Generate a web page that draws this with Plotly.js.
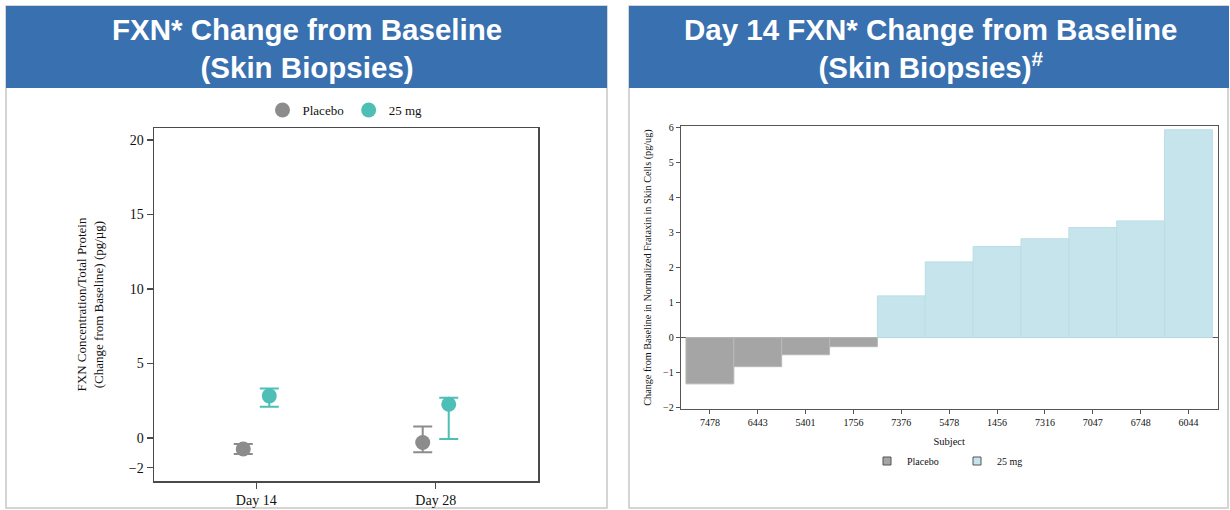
<!DOCTYPE html>
<html>
<head>
<meta charset="utf-8">
<script src="https://cdn.plot.ly/plotly-3.0.1.min.js"></script>
<style>html,body{margin:0;padding:0;background:#fff;}#chart{width:1230px;height:510px;}</style>
</head>
<body>
<div id="chart"></div>
<script>
// ---- Left chart data (mean change from baseline with error range) ----
const days = ['Day 14', 'Day 28'];
const placeboMean  = [-0.74, -0.31];
const placeboUpper = [-0.40, 0.76];
const placeboLower = [-1.07, -0.96];
const mg25Mean  = [2.82, 2.26];
const mg25Upper = [3.31, 2.70];
const mg25Lower = [2.10, -0.07];
const leftYTicks = [-2, 0, 5, 10, 15, 20];

// ---- Right chart data (Day 14 per-subject change) ----
const subjects = ['7478','6443','5401','1756','7376','5478','1456','7316','7047','6748','6044'];
const placeboSubjects = ['7478','6443','5401','1756'];
const placeboChange   = [-1.32, -0.83, -0.49, -0.26];
const mg25Subjects = ['7376','5478','1456','7316','7047','6748','6044'];
const mg25Change   = [1.19, 2.16, 2.60, 2.82, 3.14, 3.33, 5.93];
const rightYTicks = [-2, -1, 0, 1, 2, 3, 4, 5, 6];

const W = 1230, H = 510;
const px = v => v / W;
const py = v => 1 - v / H;

const GRAY = '#8c8c8c', TEAL = '#4dbfb6';
const BAR_GRAY = '#a5a5a5', BAR_BLUE = '#c6e4eb';
const BLUE = '#3870b0';
const serif = 'Liberation Serif, Times New Roman, serif';
const sans = 'Liberation Sans, Arial, sans-serif';

const diff = (a, b) => a.map((v, i) => v - b[i]);

const traces = [
  {
    type: 'scatter', mode: 'markers', name: 'Placebo',
    x: days, y: placeboMean, xaxis: 'x', yaxis: 'y', legend: 'legend',
    marker: {color: GRAY, size: 15},
    error_y: {type: 'data', symmetric: false, array: diff(placeboUpper, placeboMean),
              arrayminus: diff(placeboMean, placeboLower), color: GRAY, thickness: 2, width: 9.5},
    cliponaxis: false
  },
  {
    type: 'scatter', mode: 'markers', name: '25 mg',
    x: days, y: mg25Mean, xaxis: 'x', yaxis: 'y', legend: 'legend',
    marker: {color: TEAL, size: 15},
    error_y: {type: 'data', symmetric: false, array: diff(mg25Upper, mg25Mean),
              arrayminus: diff(mg25Mean, mg25Lower), color: TEAL, thickness: 2, width: 9.5},
    cliponaxis: false
  },
  {
    type: 'bar', name: 'Placebo', x: placeboSubjects, y: placeboChange,
    xaxis: 'x2', yaxis: 'y2', showlegend: false, width: 1,
    marker: {color: BAR_GRAY, line: {color: '#b8b8b8', width: 1}}
  },
  {
    type: 'bar', name: '25 mg', x: mg25Subjects, y: mg25Change,
    xaxis: 'x2', yaxis: 'y2', showlegend: false, width: 1,
    marker: {color: BAR_BLUE, line: {color: '#bcdde5', width: 1}}
  },
  // legend keys for the bar chart (small bordered squares)
  {
    type: 'scatter', mode: 'markers', name: 'Placebo', x: [null], y: [null],
    xaxis: 'x2', yaxis: 'y2', legend: 'legend2',
    marker: {symbol: 'square', size: 8, color: BAR_GRAY, line: {color: '#555', width: 1}}
  },
  {
    type: 'scatter', mode: 'markers', name: '25 mg', x: [null], y: [null],
    xaxis: 'x2', yaxis: 'y2', legend: 'legend2',
    marker: {symbol: 'square', size: 8, color: BAR_BLUE, line: {color: '#555', width: 1}}
  }
];

const axisLine = '#4a4a4a';

const layout = {
  width: W, height: H,
  margin: {l: 0, r: 0, t: 0, b: 0},
  paper_bgcolor: '#ffffff', plot_bgcolor: '#ffffff',
  showlegend: true,
  scattermode: 'group', scattergap: 0.71,
  barmode: 'overlay', bargap: 0,
  xaxis: {
    domain: [px(154), px(538)], anchor: 'y',
    type: 'category', categoryorder: 'array', categoryarray: days,
    range: [-0.57, 1.57],
    showline: true, mirror: true, linecolor: axisLine, linewidth: 1.5,
    ticks: 'outside', ticklen: 6, tickcolor: axisLine, tickwidth: 1.5,
    showgrid: false, zeroline: false,
    tickfont: {family: serif, size: 14, color: '#111'}
  },
  yaxis: {
    domain: [py(481), py(128)], anchor: 'x',
    range: [-2.89, 20.8],
    tickvals: leftYTicks,
    showline: true, mirror: true, linecolor: axisLine, linewidth: 1.5,
    ticks: 'outside', ticklen: 6, tickcolor: axisLine, tickwidth: 1.5,
    showgrid: false, zeroline: false,
    tickfont: {family: serif, size: 14, color: '#111'},
    title: {text: 'FXN Concentration/Total Protein<br>(Change from Baseline) (pg/µg)',
            font: {family: serif, size: 13, color: '#111'}, standoff: 22}
  },
  xaxis2: {
    domain: [px(680.7), px(1217.7)], anchor: 'y2',
    type: 'category', categoryorder: 'array', categoryarray: subjects,
    range: [-0.61, 10.61],
    showline: true, mirror: true, linecolor: '#555', linewidth: 1,
    ticks: 'outside', ticklen: 4, tickcolor: '#555',
    showgrid: false, zeroline: false,
    tickfont: {family: serif, size: 10, color: '#111'},
    title: {text: 'Subject', font: {family: serif, size: 10.5, color: '#111'}, standoff: 10}
  },
  yaxis2: {
    domain: [py(409.3), py(125.7)], anchor: 'x2',
    range: [-2.046, 6.046],
    tickvals: rightYTicks,
    showline: true, mirror: true, linecolor: '#555', linewidth: 1,
    ticks: 'outside', ticklen: 4, tickcolor: '#555',
    showgrid: false, zeroline: true, zerolinecolor: '#555', zerolinewidth: 1,
    tickfont: {family: serif, size: 10, color: '#111'},
    title: {text: 'Change from Baseline in Normalized Frataxin in Skin Cells (pg/ug)',
            font: {family: serif, size: 10.2, color: '#111'}, standoff: 9}
  },
  legend: {
    orientation: 'h', x: px(345), xanchor: 'center', y: py(110), yanchor: 'middle',
    font: {family: serif, size: 13, color: '#111'}, bgcolor: 'rgba(0,0,0,0)',
    itemwidth: 30, tracegroupgap: 0
  },
  legend2: {
    orientation: 'h', x: px(957), xanchor: 'center', y: py(461), yanchor: 'middle',
    font: {family: serif, size: 10, color: '#111'}, bgcolor: 'rgba(0,0,0,0)',
    itemwidth: 30, entrywidth: 45, entrywidthmode: 'pixels'
  },
  shapes: [
    {type: 'rect', xref: 'paper', yref: 'paper', x0: px(6), x1: px(607), y0: py(508), y1: py(6),
     line: {color: '#c8c8c8', width: 1.5}, fillcolor: 'rgba(0,0,0,0)', layer: 'below'},
    {type: 'rect', xref: 'paper', yref: 'paper', x0: px(629), x1: px(1228), y0: py(508), y1: py(6),
     line: {color: '#c8c8c8', width: 1.5}, fillcolor: 'rgba(0,0,0,0)', layer: 'below'},
    {type: 'rect', xref: 'paper', yref: 'paper', x0: px(6), x1: px(607), y0: py(88), y1: py(6),
     line: {width: 0}, fillcolor: BLUE, layer: 'below'},
    {type: 'rect', xref: 'paper', yref: 'paper', x0: px(629), x1: px(1229), y0: py(88), y1: py(6),
     line: {width: 0}, fillcolor: BLUE, layer: 'below'}
  ],
  annotations: [
    {xref: 'paper', yref: 'paper', x: px(307), y: py(48), xanchor: 'center', yanchor: 'middle',
     showarrow: false, align: 'center',
     text: '<b>FXN* Change from Baseline<br>(Skin Biopsies)</b>',
     font: {family: sans, size: 29.5, color: '#ffffff'}},
    {xref: 'paper', yref: 'paper', x: px(930), y: py(48), xanchor: 'center', yanchor: 'middle',
     showarrow: false, align: 'center',
     text: '<b>Day 14 FXN* Change from Baseline<br>(Skin Biopsies)<sup>#</sup></b>',
     font: {family: sans, size: 29.5, color: '#ffffff'}}
  ]
};

Plotly.newPlot('chart', traces, layout, {displayModeBar: false, staticPlot: true});
</script>
</body>
</html>
